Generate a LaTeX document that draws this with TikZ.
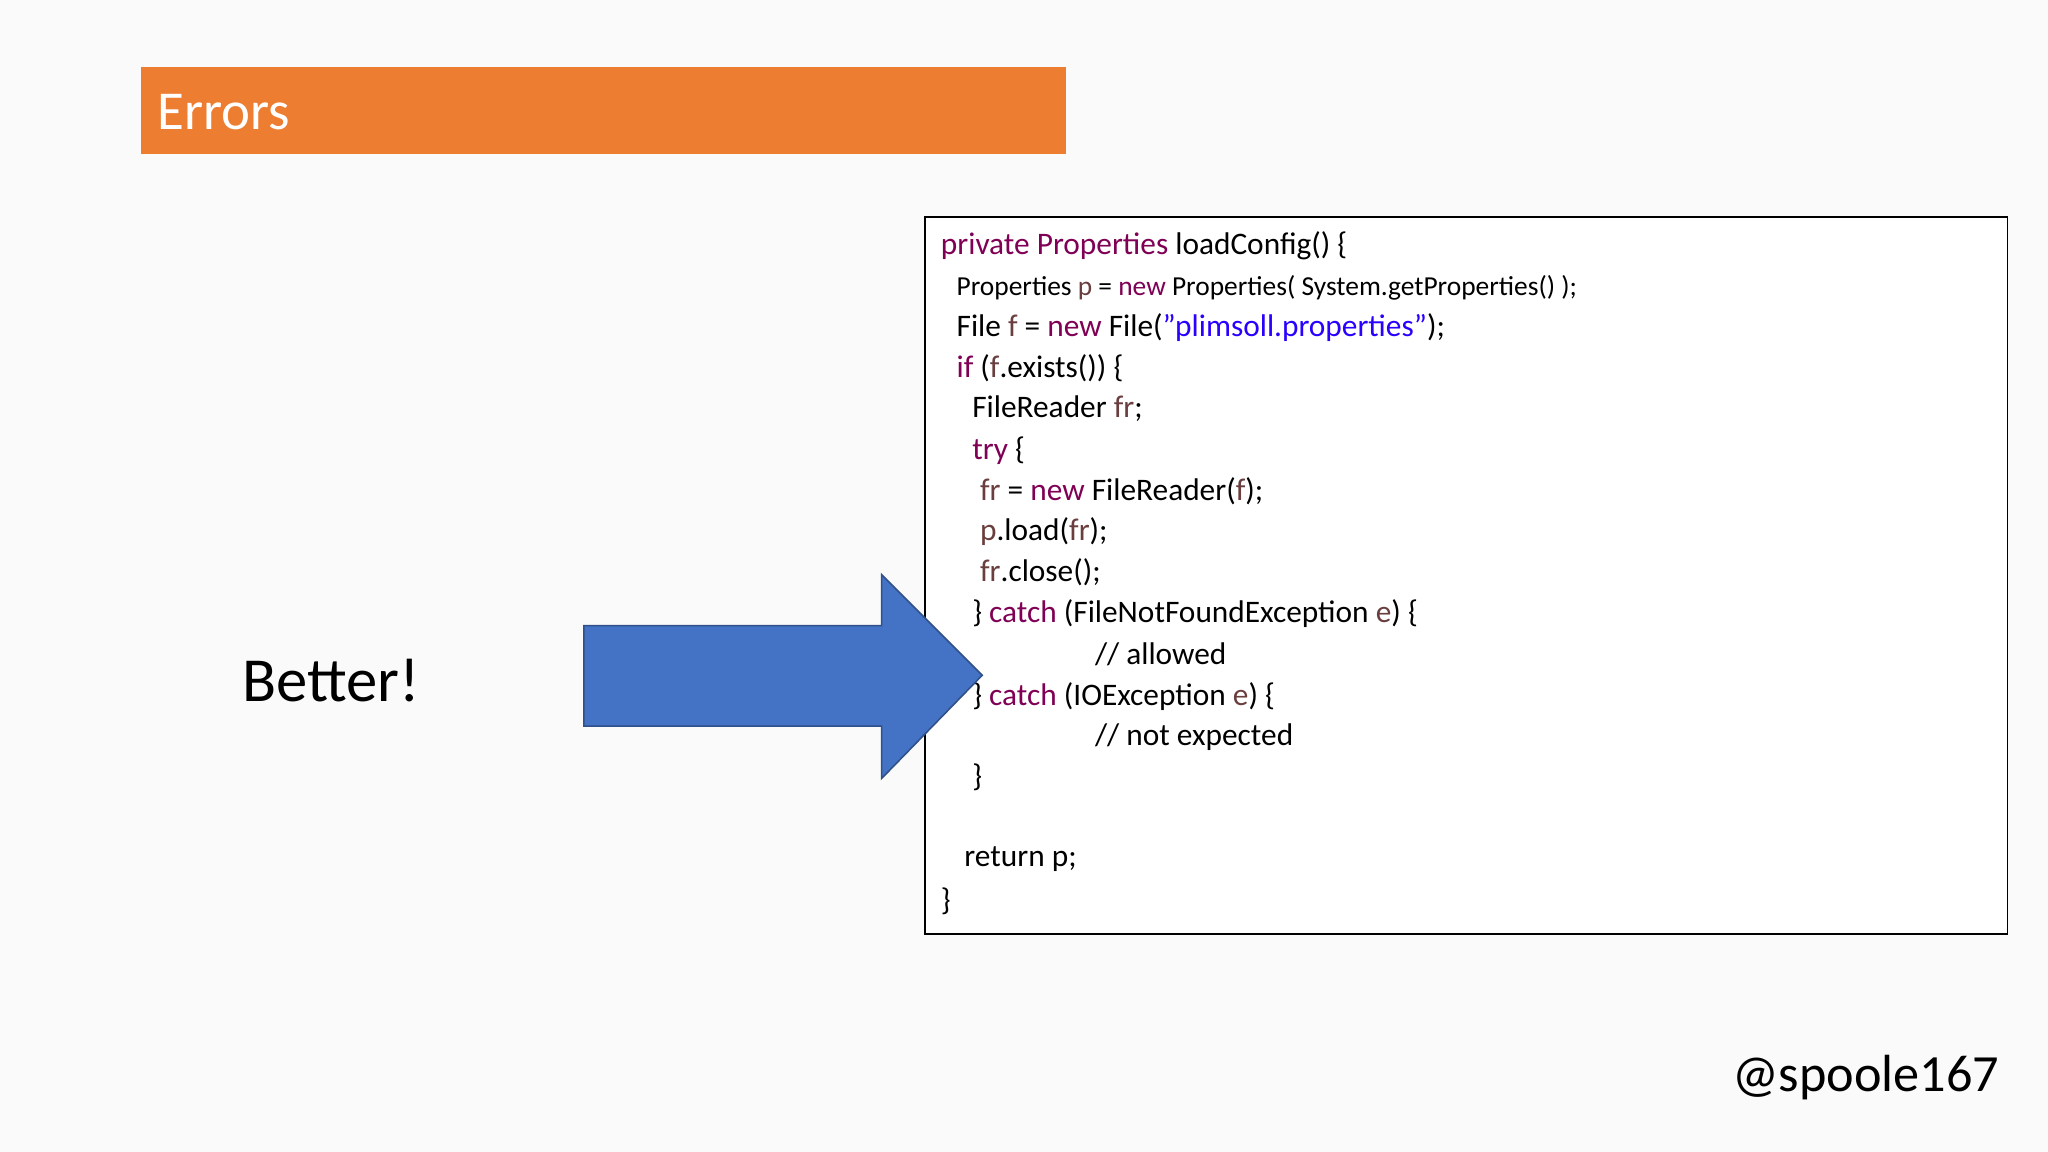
\documentclass[tikz,border=0pt]{standalone}
\usepackage{fontspec}
\setmainfont{Carlito}
\definecolor{kw}{HTML}{7F0055}
\definecolor{vr}{HTML}{6A3E3E}
\definecolor{st}{HTML}{2A00FF}
\definecolor{orng}{HTML}{ED7D31}
\definecolor{arr}{HTML}{4472C4}
\newcommand{\K}[1]{\textcolor{kw}{#1}}
\newcommand{\V}[1]{\textcolor{vr}{#1}}
\newcommand{\Sx}[1]{\textcolor{st}{#1}}
\begin{document}
\begin{tikzpicture}[x=0.5pt,y=-0.5pt,
  code/.style={anchor=west,inner sep=0pt,font=\fontsize{12}{14}\selectfont},
  codes/.style={anchor=west,inner sep=0pt,font=\fontsize{10.5}{12}\selectfont}]
\useasboundingbox[fill=white!98!black] (0,0) rectangle (1568,882);
\fill[orng] (108,51) rectangle (816,118);
\node[anchor=west,inner sep=0pt,text=white,font=\fontsize{21}{24}\selectfont] (title) at (120,86) {Errors};
\draw[black,fill=white,line width=0.6pt] (708,166) rectangle (1537,715);
\node[anchor=west,inner sep=0pt,font=\fontsize{24}{28}\selectfont] (better) at (185,521) {Better!};
\node[anchor=east,inner sep=0pt,font=\fontsize{20}{24}\selectfont] (handle) at (1531,825) {@spoole167};
\node[code] (l1) at (720,188) {\K{private} \K{Properties} loadConfig() \{};
\node[codes] (l2) at (732,220) {Properties \V{p} = \K{new} Properties( System.getProperties() );};
\node[code] (l3) at (732,251) {File \V{f} = \K{new} File(\Sx{"plimsoll.properties"});};
\node[code] (l4) at (732,282) {\K{if} (\V{f}.exists()) \{};
\node[code] (l5) at (744,313) {FileReader \V{fr};};
\node[code] (l6) at (744,345) {\K{try} \{};
\node[code] (l7) at (750,376) {\V{fr} = \K{new} FileReader(\V{f});};
\node[code] (l8) at (750,407) {\V{p}.load(\V{fr});};
\node[code] (l9) at (750,438) {\V{fr}.close();};
\node[code] (l10) at (744,470) {\} \K{catch} (FileNotFoundException \V{e}) \{};
\node[code] (l11) at (838,501) {// allowed};
\node[code] (l12) at (744,533) {\} \K{catch} (IOException \V{e}) \{};
\node[code] (l13) at (838,564) {// not expected};
\node[code] (l14) at (744,595) {\}};
\node[code] (l15) at (738,658) {return p;};
\node[code] (l16) at (720,690) {\}};
\draw[arr!70!black,fill=arr,line width=0.6pt] (447,479) -- (675,479) -- (675,440) -- (752,517) -- (675,596) -- (675,556) -- (447,556) -- cycle;
\end{tikzpicture}
\end{document}
